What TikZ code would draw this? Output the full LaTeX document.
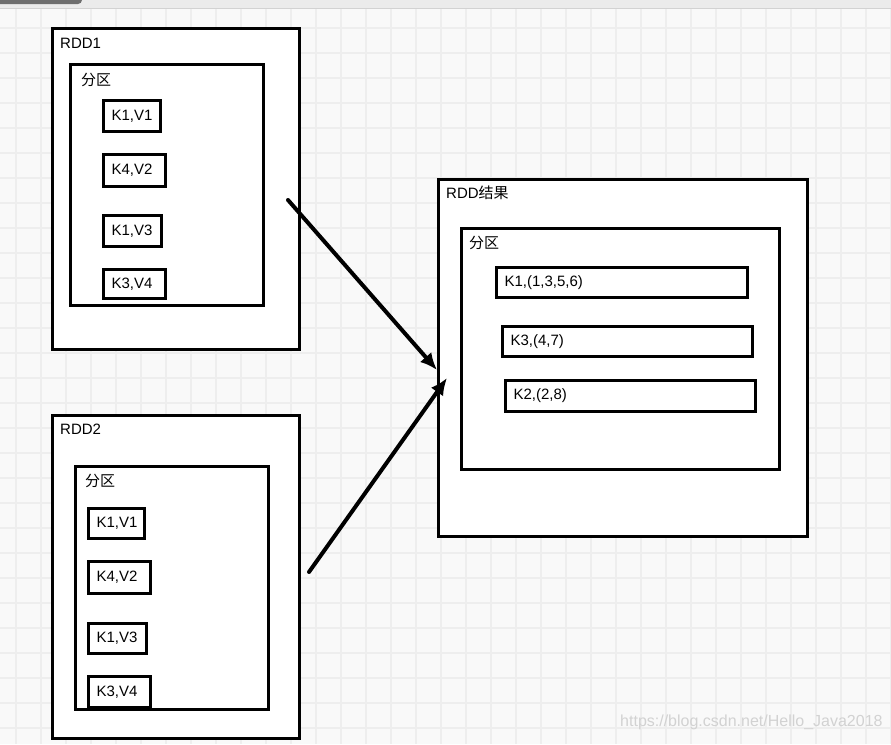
\documentclass[tikz,border=0pt]{standalone}
\usepackage{fontspec}
\setmainfont{Liberation Sans}
\newfontfamily\cjk{Noto Sans CJK SC}
\usetikzlibrary{arrows.meta,positioning}
\definecolor{paper}{HTML}{F9F9F9}
\definecolor{gridgray}{HTML}{EEEEEE}
\definecolor{barlight}{HTML}{EBEBEB}
\definecolor{bardark}{HTML}{6E6E6E}

\begin{document}
\begin{tikzpicture}[x=1pt,y=-1pt,
  outerbox/.style={draw,fill=white,line width=2.8pt,anchor=north west,inner sep=0pt},
  partbox/.style={draw,fill=white,line width=2.6pt,anchor=north west,inner sep=0pt},
  kvbox/.style={draw,fill=white,line width=3pt,anchor=north west,inner xsep=8pt,inner ysep=0pt,
    align=left,font=\fontsize{15}{17}\selectfont},
  lbl/.style={anchor=west,inner sep=0pt,font=\fontsize{15}{17}\selectfont},
  flow/.style={-{Latex[length=17pt,width=15pt]},line width=4pt,line cap=round}]
  \useasboundingbox (0,0) rectangle (891,744);
  % paper and grid
  \fill[paper] (0,0) rectangle (891,744);
  \foreach \gx in {16,41,...,891} \draw[gridgray,line width=1.1pt] (\gx,9) -- (\gx,744);
  \foreach \gy in {28,53,...,744} \draw[gridgray,line width=1.1pt] (0,\gy) -- (891,\gy);
  \fill[barlight] (0,0) rectangle (891,8);
  \draw[gray!35,line width=1pt] (0,8.5) -- (891,8.5);
  \fill[bardark,rounded corners=4pt] (-6,-6) rectangle (82,4);

  % RDD1
  \node[outerbox,minimum width=247pt,minimum height=321pt] (rdd1) at (51,27) {};
  \node[lbl] (rdd1lbl) at (60,43) {RDD1};
  \node[partbox,minimum width=193pt,minimum height=241pt] (part1) at (69,63) {};
  \node[lbl] (part1lbl) at (81,80) {\cjk 分区};
  \node[kvbox,text width=41pt,minimum height=31pt] (a1) at (102,99) {K1,V1};
  \node[kvbox,text width=46pt,minimum height=32pt] (a2) at (102,153) {K4,V2};
  \node[kvbox,text width=42pt,minimum height=31pt] (a3) at (102,214) {K1,V3};
  \node[kvbox,text width=46pt,minimum height=29pt] (a4) at (102,268) {K3,V4};

  % RDD2
  \node[outerbox,minimum width=247pt,minimum height=323pt] (rdd2) at (51,414) {};
  \node[lbl] (rdd2lbl) at (60,429) {RDD2};
  \node[partbox,minimum width=193pt,minimum height=243pt] (part2) at (74,465) {};
  \node[lbl] (part2lbl) at (85,481) {\cjk 分区};
  \node[kvbox,text width=40pt,minimum height=30pt] (b1) at (87,507) {K1,V1};
  \node[kvbox,text width=46pt,minimum height=32pt] (b2) at (87,560) {K4,V2};
  \node[kvbox,text width=42pt,minimum height=30pt] (b3) at (87,622) {K1,V3};
  \node[kvbox,text width=46pt,minimum height=31pt] (b4) at (87,675) {K3,V4};

  % result
  \node[outerbox,minimum width=369pt,minimum height=357pt] (res) at (437,178) {};
  \node[lbl] (reslbl) at (446,193) {RDD{\cjk 结果}};
  \node[partbox,minimum width=318pt,minimum height=241pt] (part3) at (460,227) {};
  \node[lbl] (part3lbl) at (469,243) {\cjk 分区};
  \node[kvbox,text width=235pt,minimum height=30pt] (c1) at (495,266) {K1,(1,3,5,6)};
  \node[kvbox,text width=234pt,minimum height=30pt] (c2) at (501,325) {K3,(4,7)};
  \node[kvbox,text width=234pt,minimum height=31pt] (c3) at (504,379) {K2,(2,8)};

  % arrows
  \coordinate (from1) at (288,200);
  \coordinate (to1) at (437,370);
  \coordinate (from2) at (309,572);
  \coordinate (to2) at (447,378);
  \draw[flow] (from1) -- (to1);
  \draw[flow] (from2) -- (to2);

  \node[anchor=west,inner sep=0pt,text=gray!35,font=\fontsize{16}{18}\selectfont] (mark) at (620,722) {https://blog.csdn.net/Hello\_Java2018};
\end{tikzpicture}
\end{document}
